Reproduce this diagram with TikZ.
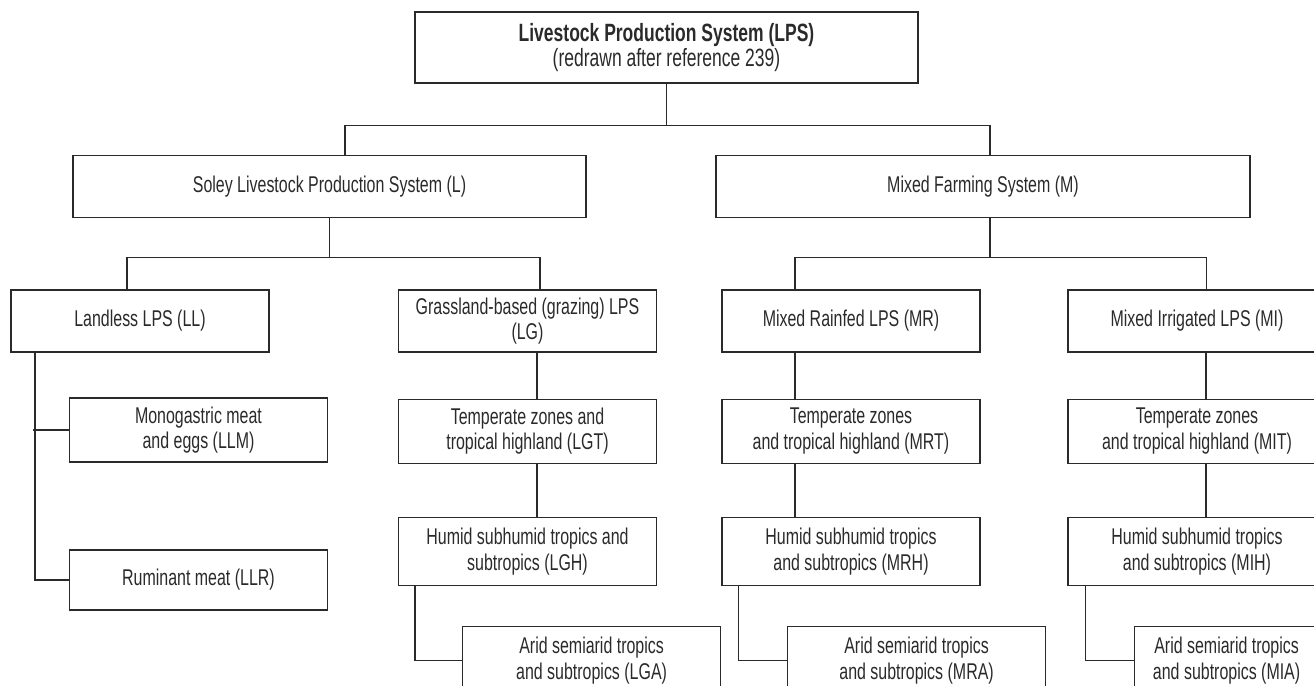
\documentclass[tikz,border=0pt]{standalone}
\usepackage{fontspec}
\setmainfont{Liberation Sans}[FakeStretch=0.70]
\usetikzlibrary{positioning}
\definecolor{lpsInk}{HTML}{2A2A2A}
\tikzset{
  blk/.style={draw=lpsInk, line width=0.6pt, align=center, text=lpsInk,
              font=\fontsize{11.4}{12.8}\selectfont, inner sep=2pt,
              minimum height=31pt},
  lvl/.style={blk, minimum width=129pt},
  zone/.style={lvl, minimum height=32pt},
  humid/.style={lvl, minimum height=34pt},
  arid/.style={lvl, minimum height=34pt, anchor=north west},
  link/.style={draw=lpsInk, line width=0.6pt},
}

\begin{document}
\begin{tikzpicture}[x=0.5pt, y=-0.5pt]
\useasboundingbox (0,0) rectangle (1314,686);
\clip (0,0) rectangle (1314,686);

\node[blk, minimum width=251.5pt, minimum height=35.5pt,
      font=\fontsize{12.5}{12.5}\selectfont] (lps) at (666.5,47.5)
  {\textbf{Livestock Production System (LPS)}\\(redrawn after reference 239)};
\node[blk, minimum width=256.5pt] (L) at (329.5,186.5)
  {Soley Livestock Production System (L)};
\node[blk, minimum width=267pt] (M) at (983,186.5)
  {Mixed Farming System (M)};

\node[lvl] (LL) at (140,321) {Landless LPS (LL)};
\node[lvl] (LG) at (527.5,321) {Grassland-based (grazing) LPS\\(LG)};
\node[lvl] (MR) at (851,321) {Mixed Rainfed LPS (MR)};
\node[lvl] (MI) at (1197,321) {Mixed Irrigated LPS (MI)};

% landless branch
\node[zone] (LLM) at (198.5,430) {Monogastric meat\\and eggs (LLM)};
\node[lvl, minimum height=30pt] (LLR) at (198.5,580) {Ruminant meat (LLR)};

% grassland branch
\node[zone, below=23pt of LG] (LGT) {Temperate zones and\\tropical highland (LGT)};
\node[humid, below=26.5pt of LGT] (LGH) {Humid subhumid tropics and\\subtropics (LGH)};
\node[arid] (LGA) at (462,626) {Arid semiarid tropics\\and subtropics (LGA)};

% mixed rainfed branch
\node[zone, below=23pt of MR] (MRT) {Temperate zones\\and tropical highland (MRT)};
\node[humid, below=26.5pt of MRT] (MRH) {Humid subhumid tropics\\and subtropics (MRH)};
\node[arid] (MRA) at (787,626) {Arid semiarid tropics\\and subtropics (MRA)};

% mixed irrigated branch
\node[zone, below=23pt of MI] (MIT) {Temperate zones\\and tropical highland (MIT)};
\node[humid, below=26.5pt of MIT] (MIH) {Humid subhumid tropics\\and subtropics (MIH)};
\node[arid, minimum width=92pt] (MIA) at (1134,626) {Arid semiarid tropics\\and subtropics (MIA)};

\draw[link] (lps.south) -- ++(0,42) coordinate (hub0);
\draw[link] ([xshift=7.75pt]L.north) |- (hub0) -| ([xshift=3.5pt]M.north);

\draw[link] (L.south) -- ++(0,39) coordinate (hubL);
\draw[link] ([xshift=-6.5pt]LL.north) |- (hubL) -| ([xshift=6.25pt]LG.north);
\draw[link] ([xshift=3.5pt]M.south) -- ++(0,39) coordinate (hubM);
\draw[link] ([xshift=-28pt]MR.north) |- (hubM) -| ([xshift=4.75pt]MI.north);

\draw[link] ([xshift=-52.5pt]LL.south) coordinate (llx) |- (LLR.west);
\draw[link] ([xshift=-1pt]llx |- LLM.west) -- (LLM.west);

\draw[link] ([xshift=4.75pt]LG.south) -- ([xshift=4.75pt]LGT.north);
\draw[link] ([xshift=4.75pt]LGT.south) -- ([xshift=4.75pt]LGH.north);
\draw[link] ([xshift=8.5pt]LGH.south west) |- (LGA.west);

\draw[link] ([xshift=-28pt]MR.south) -- ([xshift=-28pt]MRT.north);
\draw[link] ([xshift=-28pt]MRT.south) -- ([xshift=-28pt]MRH.north);
\draw[link] ([xshift=8.5pt]MRH.south west) |- (MRA.west);

\draw[link] ([xshift=4.5pt]MI.south) -- ([xshift=4.5pt]MIT.north);
\draw[link] ([xshift=4.5pt]MIT.south) -- ([xshift=4.5pt]MIH.north);
\draw[link] ([xshift=9pt]MIH.south west) |- (MIA.west);

\end{tikzpicture}
\end{document}
